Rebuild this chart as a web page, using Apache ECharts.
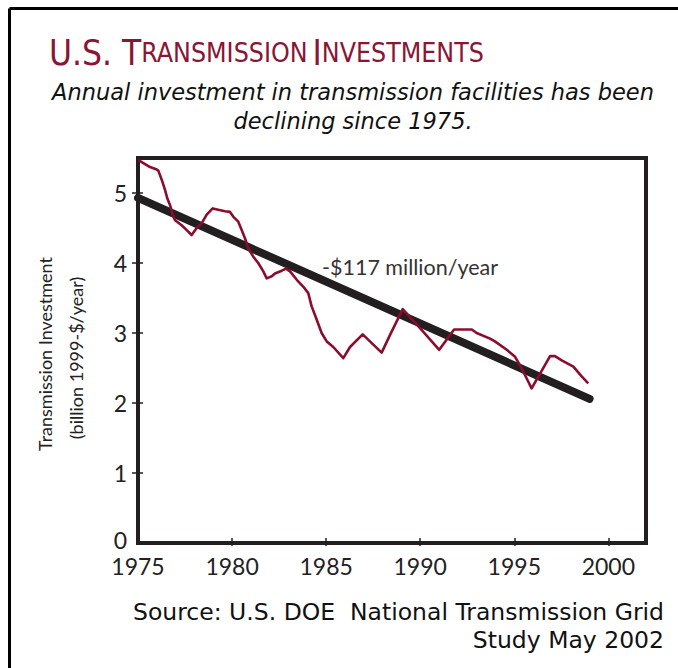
<!DOCTYPE html>
<html>
<head>
<meta charset="utf-8">
<script src="https://cdn.jsdelivr.net/npm/echarts@6/dist/echarts.min.js"></script>
<style>
html,body{margin:0;padding:0;background:#fff;}
#chart{width:678px;height:668px;}
</style>
</head>
<body>
<div id="chart"></div>
<script>
// ---- data ----
const investmentYears = [1975.02,1975.64,1975.96,1976.08,1976.26,1976.44,1976.56,1976.70,1976.84,1976.97,
  1977.32,1977.59,1977.85,1978.12,1978.39,1978.65,1978.97,1979.27,1979.62,1979.89,
  1980.07,1980.33,1980.51,1980.69,1980.86,1981.13,1981.39,1981.66,1981.84,1982.11,
  1982.28,1982.64,1982.87,1983.08,1983.44,1983.79,1984.05,1984.23,1984.50,1984.76,
  1985.03,1985.38,1985.91,1986.27,1986.94,1987.33,1987.95,1988.39,1989.07,1989.99,
  1991.01,1991.80,1992.74,1993.00,1993.71,1993.97,1994.60,1995.04,1995.30,1995.66,
  1995.92,1996.37,1996.90,1997.16,1997.52,1998.14,1998.58,1998.93];
const investmentValues = [5.47,5.37,5.34,5.32,5.19,5.04,4.92,4.83,4.69,4.61,
  4.54,4.47,4.40,4.50,4.57,4.69,4.78,4.76,4.74,4.73,
  4.66,4.59,4.47,4.35,4.21,4.09,4.00,3.88,3.78,3.81,
  3.85,3.89,3.92,3.88,3.76,3.66,3.57,3.38,3.19,3.00,
  2.88,2.80,2.64,2.80,2.98,2.88,2.72,2.97,3.34,3.07,
  2.76,3.05,3.05,3.00,2.92,2.88,2.76,2.66,2.54,2.35,
  2.21,2.42,2.67,2.67,2.61,2.52,2.38,2.28];
const trendYears = [1975, 1999];
const trendValues = [4.93, 2.06];
const xTicks = [1975, 1980, 1985, 1990, 1995, 2000];
const yTicks = [0, 1, 2, 3, 4, 5];
const trendLabel = '-$117 million/year';
const yAxisTitle = ['Transmission Investment', '(billion 1999-$/year)'];
const sourceLines = ['Source: U.S. DOE  National Transmission Grid', 'Study May 2002'];

const AX = '#231f20';
const RED = '#8c0c2e';
const FONT = 'Lato, "Noto Sans", sans-serif';
const WIDE = '"DejaVu Sans", "Noto Sans", sans-serif';
const NARROW = '"Liberation Sans Narrow", "DejaVu Sans Condensed", Roboto, sans-serif';

const chart = echarts.init(document.getElementById('chart'), null, {renderer: 'svg'});

const pairs = (xs, ys) => xs.map((x, i) => [x, ys[i]]);

const axisCommon = {
  axisLine: {show: true, lineStyle: {color: AX, width: 4}},
  splitLine: {show: false}
};

chart.setOption({
  animation: false,
  backgroundColor: '#fff',
  title: [
    {
      text: '{b|U.S. T}{s|RANSMISSION} {b|I}{s|NVESTMENTS}',
      left: 44, top: 30,
      textStyle: {
        fontWeight: 'normal',
        rich: {
          b: {fontFamily: NARROW, fontWeight: 'normal', fontSize: 35, color: '#8a1535'},
          s: {fontFamily: NARROW, fontWeight: 'normal', fontSize: 26.5, color: '#8a1535'}
        }
      }
    },
    {
      text: 'Annual investment in transmission facilities has been\ndeclining since 1975.',
      left: 348, top: 72, textAlign: 'center',
      textStyle: {fontFamily: WIDE, fontStyle: 'italic', fontWeight: 'normal', fontSize: 22.5, color: '#111', lineHeight: 29, align: 'center'}
    }
  ],
  grid: {left: 138, right: 32, top: 158, bottom: 125, show: true, borderColor: AX, borderWidth: 4, backgroundColor: 'transparent'},
  xAxis: [
    Object.assign({
      type: 'value', min: 1975, max: 2002, interval: 5,
      axisTick: {show: true, inside: true, length: 5, lineStyle: {color: AX, width: 1.5}, customValues: xTicks.slice(1)},
      axisLabel: {customValues: xTicks, formatter: v => String(v), margin: 13, lineHeight: 20, fontFamily: FONT, fontSize: 23, color: '#222'}
    }, axisCommon),
    Object.assign({
      type: 'value', min: 1975, max: 2002, interval: 5, position: 'bottom',
      axisTick: {show: true, inside: false, length: 3, lineStyle: {color: AX, width: 1.5}, customValues: xTicks.slice(1)},
      axisLabel: {show: false}
    }, axisCommon)
  ],
  yAxis: [
    Object.assign({
      type: 'value', min: 0, max: 5.5, interval: 1,
      axisTick: {show: true, inside: false, length: 6, lineStyle: {color: AX, width: 1.5}, customValues: yTicks.slice(1)},
      axisLabel: {
        customValues: yTicks, margin: 11, lineHeight: 16, fontFamily: FONT, fontSize: 23, color: '#222',
        formatter: v => (v === 0 ? '{z|0}' : String(v)),
        rich: {z: {fontFamily: FONT, fontSize: 23, color: '#222', lineHeight: 16, padding: [0, 0, 7, 0]}}
      }
    }, axisCommon),
    Object.assign({
      type: 'value', min: 0, max: 5.5, interval: 1, position: 'left',
      axisTick: {show: true, inside: true, length: 5, lineStyle: {color: AX, width: 1.5}, customValues: yTicks.slice(1)},
      axisLabel: {show: false}
    }, axisCommon)
  ],
  series: [
    {
      type: 'line', name: 'trend', data: pairs(trendYears, trendValues),
      showSymbol: false, symbol: 'none',
      lineStyle: {color: AX, width: 8, cap: 'round'},
      z: 2
    },
    {
      type: 'line', name: 'investment', data: pairs(investmentYears, investmentValues),
      showSymbol: false, symbol: 'none',
      lineStyle: {color: RED, width: 2.6, join: 'round'},
      z: 3
    }
  ],
  graphic: [
    {type: 'line', shape: {x1: 9.5, y1: 8.5, x2: 678, y2: 8.5}, style: {stroke: '#000', lineWidth: 3}, silent: true},
    {type: 'line', shape: {x1: 9.5, y1: 8.5, x2: 9.5, y2: 668}, style: {stroke: '#000', lineWidth: 3}, silent: true},
    {type: 'text', left: 322, top: 256, style: {text: trendLabel, font: '21.5px ' + FONT, fill: '#333'}},
    {type: 'text', x: 45, y: 354, rotation: Math.PI / 2, style: {text: yAxisTitle[0], font: '18px ' + FONT, fill: '#222', align: 'center', verticalAlign: 'middle'}},
    {type: 'text', x: 76, y: 358, rotation: Math.PI / 2, style: {text: yAxisTitle[1], font: '18px ' + FONT, fill: '#222', align: 'center', verticalAlign: 'middle'}},
    {type: 'text', x: 664, y: 612, style: {text: sourceLines[0], font: '23.5px ' + WIDE, fill: '#111', align: 'right', verticalAlign: 'middle'}},
    {type: 'text', x: 664, y: 640, style: {text: sourceLines[1], font: '23.5px ' + WIDE, fill: '#111', align: 'right', verticalAlign: 'middle'}}
  ]
});
</script>
</body>
</html>
